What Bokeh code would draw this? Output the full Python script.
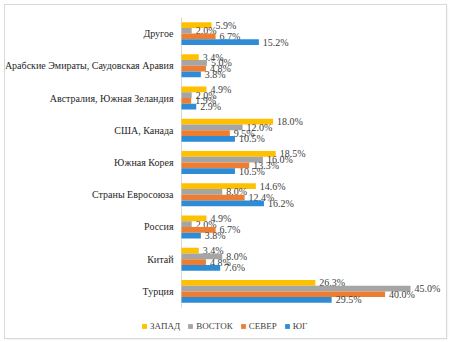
from bokeh.plotting import figure
from bokeh.models import ColumnDataSource, Range1d, Legend, LegendItem
from bokeh.transform import dodge
from bokeh.core.properties import value
from bokeh.embed import file_html
from bokeh.resources import INLINE

categories = ["Другое", "Арабские Эмираты, Саудовская Аравия", "Австралия, Южная Зеландия",
              "США, Канада", "Южная Корея", "Страны Евросоюза", "Россия", "Китай", "Турция"]
zapad = [5.9, 3.4, 4.9, 18.0, 18.5, 14.6, 4.9, 3.4, 26.3]
vostok = [2.0, 5.0, 2.0, 12.0, 16.0, 8.0, 2.0, 8.0, 45.0]
sever = [6.7, 4.8, 1.9, 9.5, 13.3, 12.4, 6.7, 4.8, 40.0]
yug = [15.2, 3.8, 2.9, 10.5, 10.5, 16.2, 3.8, 7.6, 29.5]
series_names = ["ЗАПАД", "ВОСТОК", "СЕВЕР", "ЮГ"]
colors = ["#FFC000", "#A5A5A5", "#ED7D31", "#2E8BD6"]

FONT = "Liberation Serif"

n = len(categories)
pos = [n - i for i in range(n)]  # top category highest

src = ColumnDataSource(dict(
    cat=categories, pos=pos, zero=[0] * n,
    zapad=zapad, vostok=vostok, sever=sever, yug=yug,
    zapad_l=[f"{v:.1f}%" for v in zapad],
    vostok_l=[f"{v:.1f}%" for v in vostok],
    sever_l=[f"{v:.1f}%" for v in sever],
    yug_l=[f"{v:.1f}%" for v in yug],
))

px_per_unit_x = 5.09
px_per_band = 290 / n
p = figure(width=441, height=333, output_backend="svg", toolbar_location=None,
           x_range=Range1d(-176 / px_per_unit_x, 265 / px_per_unit_x),
           y_range=Range1d(0.5 - 31 / px_per_band, n + 0.5 + 12 / px_per_band),
           min_border=0, margin=(5, 4, 4, 5))
p.styles = {"outline": "1px solid #D9D9D9", "box-shadow": "1px 1px 2px #E0E0E0"}

p.outline_line_color = None
p.xgrid.grid_line_color = None
p.ygrid.grid_line_color = None
p.xaxis.visible = False
p.yaxis.visible = False

# axis line
p.segment(x0=[0], x1=[0], y0=[0.5], y1=[n + 0.5], line_color="#D9D9D9", line_width=1)

# category labels
p.text(x="zero", y="pos", text="cat", source=src, x_offset=-8,
       text_font=value(FONT), text_font_size="10px", text_color="#262626",
       text_baseline="middle", text_align="right")

keys = ["zapad", "vostok", "sever", "yug"]
offsets = [0.267, 0.089, -0.089, -0.267]
renderers = []
for k, off, c in zip(keys, offsets, colors):
    r = p.hbar(y=dodge("pos", off), right=k, left=0, height=0.178,
               source=src, fill_color=c, line_color=None)
    renderers.append(r)
    p.text(x=k, y=dodge("pos", off), text=k + "_l", source=src,
           x_offset=4, text_font=value(FONT), text_font_size="10px",
           text_color="#404040", text_baseline="middle", text_align="left")

legend = Legend(items=[LegendItem(label=s, renderers=[r]) for s, r in zip(series_names, renderers)],
                orientation="horizontal", location=(136, 7),
                label_text_font=FONT, label_text_font_size="9px", label_text_color="#404040",
                glyph_width=6, glyph_height=6, label_height=10, label_standoff=3,
                spacing=7, padding=0, margin=0, border_line_color=None,
                background_fill_alpha=0)
p.add_layout(legend, "center")

open("out.html", "w").write(file_html(p, INLINE))
